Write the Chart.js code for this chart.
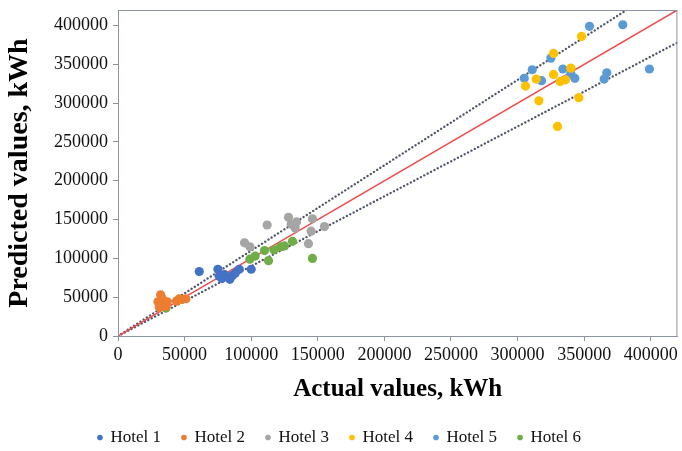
<!DOCTYPE html>
<html>
<head>
<meta charset="utf-8">
<script src="https://cdn.jsdelivr.net/npm/chart.js@4/dist/chart.umd.min.js"></script>
<style>
  html, body { margin: 0; padding: 0; background: #ffffff; }
  #wrap { width: 682px; height: 451px; }
</style>
</head>
<body>
<div id="wrap"><canvas id="chart" width="682" height="451"></canvas></div>
<script>
// Hotel energy use: actual vs predicted (kWh)
const hotelNames = ['Hotel 1', 'Hotel 2', 'Hotel 3', 'Hotel 4', 'Hotel 5', 'Hotel 6'];
const hotelColors = ['#4472C4', '#ED7D31', '#A5A5A5', '#FFC000', '#5B9BD5', '#70AD47'];

const hotel1Actual    = [61000, 75000, 76000, 78000, 80000, 84000, 86000, 88000, 91000, 100000];
const hotel1Predicted = [83000, 86000, 77000, 74000, 79000, 73000, 78000, 81000, 86000, 86000];

const hotel2Actual    = [30000, 31000, 32000, 33000, 34000, 36000, 37000, 44000, 46000, 48000, 51000];
const hotel2Predicted = [44000, 37000, 53000, 49000, 41000, 38000, 44000, 45000, 48000, 47000, 48000];

const hotel3Actual    = [95000, 99000, 112000, 128000, 130000, 133000, 134000, 143000, 145000, 146000, 155000];
const hotel3Predicted = [120000, 115000, 143000, 153000, 144000, 139000, 147000, 119000, 135000, 151000, 141000];

const hotel4Actual    = [306000, 314000, 316000, 327000, 327000, 330000, 332000, 336000, 340000, 346000, 348000];
const hotel4Predicted = [322000, 331000, 303000, 337000, 364000, 270000, 328000, 330000, 345000, 307000, 386000];

const hotel5Actual    = [305000, 311000, 318000, 325000, 334000, 340000, 343000, 354000, 365000, 367000, 379000, 399000];
const hotel5Predicted = [332000, 343000, 329000, 358000, 344000, 338000, 332000, 399000, 331000, 339000, 401000, 344000];

const hotel6Actual    = [36000, 81000, 83000, 99000, 103000, 110000, 113000, 117000, 122000, 125000, 131000, 146000];
const hotel6Predicted = [36000, 78000, 75000, 99000, 103000, 110000, 97000, 111000, 115000, 116000, 122000, 100000];

// Reference lines y = k * x (perfect fit and +/-10 % band)
const lineFactors = [1, 1.1, 0.9];
const lineRange = [0, 420000];

// Axis extent and tick labels (same for both axes)
const axisMax = 420000;
const tickValues = [0, 50000, 100000, 150000, 200000, 250000, 300000, 350000, 400000];

const actualSets = [hotel1Actual, hotel2Actual, hotel3Actual, hotel4Actual, hotel5Actual, hotel6Actual];
const predictedSets = [hotel1Predicted, hotel2Predicted, hotel3Predicted, hotel4Predicted, hotel5Predicted, hotel6Predicted];

const SERIF = "'Liberation Serif', 'Times New Roman', serif";
const AXIS_GREY = '#8c93a3';

const pointSets = hotelNames.map((name, i) => ({
  label: name,
  data: actualSets[i].map((x, j) => ({ x: x, y: predictedSets[i][j] })),
  backgroundColor: hotelColors[i],
  borderColor: hotelColors[i],
  pointRadius: 4.6,
  pointBorderWidth: 0,
  showLine: false,
  order: 1
}));

const lineSets = lineFactors.map((k, i) => ({
  label: 'fit' + i,
  data: lineRange.map(x => ({ x: x, y: x * k })),
  showLine: true,
  pointRadius: 0,
  borderColor: k === 1 ? '#F24B4B' : '#4f5668',
  borderWidth: k === 1 ? 1.5 : 2.3,
  borderDash: k === 1 ? [] : [0.1, 3.7],
  borderCapStyle: k === 1 ? 'butt' : 'round',
  fill: false,
  order: 5
}));

const framePlugin = {
  id: 'frame',
  afterDraw(chart) {
    const { ctx, chartArea: a } = chart;
    ctx.save();
    ctx.strokeStyle = AXIS_GREY;
    ctx.lineWidth = 1;
    ctx.strokeRect(a.left + 0.5, a.top + 0.5, a.right - a.left - 1, a.bottom - a.top);
    ctx.restore();
  }
};

const fixedTicks = s => { s.ticks = tickValues.map(v => ({ value: v })); };

new Chart(document.getElementById('chart'), {
  type: 'scatter',
  data: { datasets: pointSets.concat(lineSets) },
  plugins: [framePlugin],
  options: {
    responsive: false,
    devicePixelRatio: 1,
    animation: false,
    layout: { padding: { top: 10, left: 0, right: 3, bottom: -5 } },
    plugins: {
      tooltip: { enabled: false },
      legend: {
        position: 'bottom',
        labels: {
          filter: item => hotelNames.includes(item.text),
          usePointStyle: true,
          pointStyle: 'circle',
          boxWidth: 4,
          boxHeight: 4,
          padding: 21,
          color: '#111111',
          font: { family: SERIF, size: 17 }
        }
      }
    },
    scales: {
      x: {
        type: 'linear',
        min: 0,
        max: axisMax,
        afterBuildTicks: fixedTicks,
        afterFit: s => { s.height = 72; s.paddingLeft = 0; s.paddingRight = 0; },
        border: { display: true, color: AXIS_GREY, width: 1 },
        grid: { drawOnChartArea: false, drawTicks: true, tickLength: 5, color: AXIS_GREY },
        ticks: {
          maxRotation: 0,
          autoSkip: false,
          padding: 3,
          color: '#111111',
          font: { family: SERIF, size: 18 },
          callback: v => String(v)
        },
        title: {
          display: true,
          text: 'Actual values, kWh',
          color: '#000000',
          font: { family: SERIF, size: 25, weight: 'bold' },
          padding: { top: 0, bottom: 3 }
        }
      },
      y: {
        type: 'linear',
        min: 0,
        max: axisMax,
        afterBuildTicks: fixedTicks,
        afterFit: s => { s.width = 118; s.paddingTop = 0; s.paddingBottom = 0; },
        border: { display: true, color: AXIS_GREY, width: 1 },
        grid: { drawOnChartArea: false, drawTicks: true, tickLength: 5, color: AXIS_GREY },
        ticks: {
          autoSkip: false,
          padding: 5,
          color: '#111111',
          font: { family: SERIF, size: 18 },
          callback: v => String(v)
        },
        title: {
          display: true,
          text: 'Predicted values, kWh',
          color: '#000000',
          font: { family: SERIF, size: 28, weight: 'bold' },
          padding: { top: 3, bottom: 0 }
        }
      }
    }
  }
});
</script>
</body>
</html>
